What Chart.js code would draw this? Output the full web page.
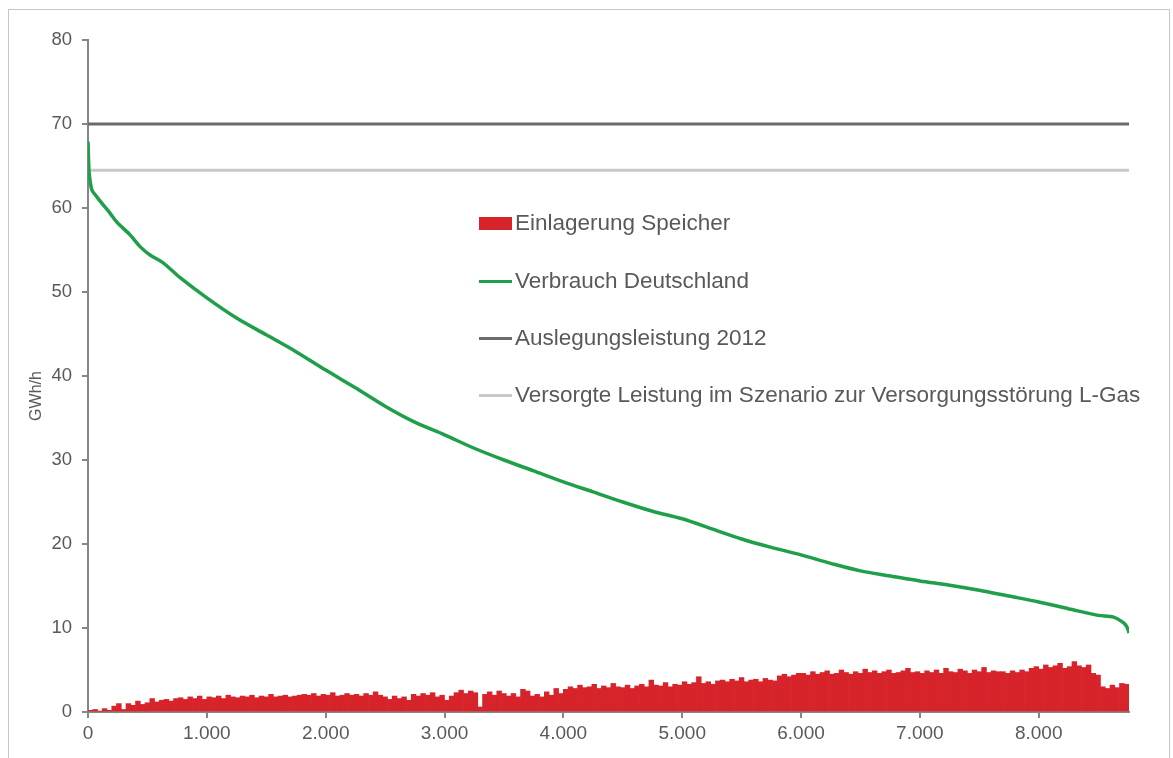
<!DOCTYPE html>
<html>
<head>
<meta charset="utf-8">
<script src="https://cdn.jsdelivr.net/npm/chart.js@4.4.1/dist/chart.umd.min.js"></script>
<style>
  body { margin: 0; background: #fff; font-family: "Liberation Sans", Arial, sans-serif; }
  #wrap { position: relative; width: 1173px; height: 758px; }
  #frame { position: absolute; left: 8px; top: 9px; width: 1162px; height: 760px; border: 1px solid #c6c6c6; box-sizing: border-box; }
  #ytitle { position: absolute; left: 36px; top: 396px; transform: translate(-50%, -50%) rotate(-90deg); font-size: 16px; color: #595959; white-space: nowrap; }
  .leg { position: absolute; left: 479px; display: flex; align-items: center; font-size: 22.5px; color: #595959; white-space: nowrap; transform: translateY(-50%); }
  .sw { width: 33px; margin-right: 3px; }
</style>
</head>
<body>
<div id="wrap">
  <div id="frame"></div>
  <canvas id="chart"></canvas>
  <div id="ytitle">GWh/h</div>
  <div class="leg" style="top:223px"><span class="sw" style="height:13px;background:#d7232a"></span>Einlagerung Speicher</div>
  <div class="leg" style="top:281px"><span class="sw" style="height:3px;background:#1f9f4a"></span>Verbrauch Deutschland</div>
  <div class="leg" style="top:338px"><span class="sw" style="height:3px;background:#6b6b6b"></span>Auslegungsleistung 2012</div>
  <div class="leg" style="top:395px"><span class="sw" style="height:3px;background:#c9c9c9"></span>Versorgte Leistung im Szenario zur Versorgungsstörung L-Gas</div>
</div>
<script>
// hours of the year (sorted duration curve)
var consumptionHours = [0, 8, 17, 34, 76, 126, 185, 244, 354, 438, 522, 630, 775, 1000, 1250, 1500, 1750, 2000, 2250, 2500, 2750, 3000, 3250, 3500, 3750, 4000, 4250, 4500, 4750, 5000, 5250, 5500, 5750, 6000, 6250, 6500, 6750, 7000, 7250, 7500, 7750, 8000, 8250, 8500, 8630, 8715, 8747, 8760];
var consumption = [67.9, 64.5, 63.3, 62.1, 61.3, 60.4, 59.4, 58.3, 56.8, 55.4, 54.4, 53.5, 51.7, 49.3, 46.9, 44.9, 42.9, 40.7, 38.6, 36.4, 34.5, 33.0, 31.4, 30.0, 28.7, 27.4, 26.2, 25.0, 23.9, 23.0, 21.8, 20.6, 19.6, 18.7, 17.7, 16.8, 16.2, 15.6, 15.1, 14.5, 13.8, 13.1, 12.3, 11.5, 11.3, 10.6, 10.0, 9.4];

// storage injection, one value per 40 hours
var storageStep = 40;
var storage = [
  0.2, 0.3, 0.1, 0.4, 0.2, 0.7, 1.0, 0.3,
  1.0, 0.8, 1.3, 0.9, 1.1,
  1.6, 1.2, 1.4, 1.5, 1.3, 1.6, 1.7, 1.5, 1.8, 1.6, 1.9, 1.5,
  1.8, 1.7, 1.9, 1.6, 2.0, 1.8, 1.7, 1.9, 1.8, 2.0, 1.7, 1.9, 1.8, 2.1, 1.8, 1.9, 2.0, 1.8, 1.9, 2.0,
  2.1, 2.0, 2.2, 1.9, 2.1, 2.0, 2.3, 1.9, 2.0, 2.2, 2.0, 2.1, 1.9, 2.2, 2.0, 2.4, 2.0,
  1.8, 1.5, 1.9, 1.6, 1.8, 1.4,
  2.1, 1.9, 2.2, 2.0, 2.3, 1.8, 2.0,
  1.4, 1.9,
  2.3, 2.6, 2.2, 2.5, 2.3,
  0.6,
  2.1, 2.4, 2.0, 2.5, 2.2,
  1.9, 2.2, 1.8,
  2.7, 2.5,
  1.9, 2.1, 1.8, 2.4, 2.0, 2.8, 2.2,
  2.7, 3.0, 2.8, 3.2, 2.9, 3.0, 3.3, 2.8, 3.1, 2.9, 3.4, 3.0, 2.9, 3.2, 2.8,
  3.1, 3.3, 3.0, 3.8, 3.2, 3.1, 3.5, 3.0, 3.3, 3.2,
  3.6, 3.3, 3.5, 4.2, 3.4, 3.6, 3.3, 3.7,
  3.8, 3.6, 3.9, 3.7, 4.1, 3.6, 3.8,
  3.9, 3.6, 4.0, 3.8, 3.7,
  4.3, 4.5, 4.2, 4.4, 4.6,
  4.6, 4.4, 4.8, 4.5, 4.7, 4.9, 4.5, 4.6, 5.0, 4.7, 4.5, 4.8, 4.6, 5.1, 4.7, 4.9, 4.6, 4.8, 5.0, 4.6, 4.7, 4.9, 5.2, 4.7, 4.8, 4.6,
  4.9, 4.7, 5.0, 4.6, 5.2, 4.8, 4.7, 5.1, 4.9, 4.6, 5.0, 4.8, 5.3, 4.7, 4.9, 4.8,
  4.8, 4.6, 4.9, 4.7, 5.0, 4.8,
  5.2, 5.4, 5.1, 5.6, 5.3, 5.5, 5.8, 5.2, 5.4, 6.0, 5.5, 5.3, 5.6,
  4.6, 4.4,
  3.0, 2.8, 3.2, 2.9, 3.4,
  3.3
];

var designCapacity = 70;      // Auslegungsleistung 2012
var suppliedScenario = 64.5;  // Versorgte Leistung L-Gas Szenario
var yearHours = 8760;

var storagePoints = storage.map(function (v, i) { return { x: i * storageStep + storageStep / 2, y: v }; });
var consumptionPoints = consumption.map(function (v, i) { return { x: consumptionHours[i], y: v }; });

function fmt(v) {
  return String(v).replace(/\B(?=(\d{3})+(?!\d))/g, '.');
}

var axisColor = '#868686';
var textColor = '#595959';

var ctx = document.getElementById('chart').getContext('2d');
var myChart = new Chart(ctx, {
  type: 'bar',
  data: {
    datasets: [{
      type: 'line',
      label: 'Auslegungsleistung 2012',
      data: [{ x: 0, y: designCapacity }, { x: yearHours, y: designCapacity }],
      borderColor: '#6b6b6b',
      borderWidth: 3,
      pointRadius: 0,
      order: 1
    }, {
      type: 'line',
      label: 'Versorgte Leistung im Szenario zur Versorgungsstörung L-Gas',
      data: [{ x: 0, y: suppliedScenario }, { x: yearHours, y: suppliedScenario }],
      borderColor: '#c9c9c9',
      borderWidth: 3,
      pointRadius: 0,
      order: 2
    }, {
      type: 'line',
      label: 'Verbrauch Deutschland',
      data: consumptionPoints,
      borderColor: '#1f9f4a',
      borderWidth: 3.5,
      pointRadius: 0,
      tension: 0.3,
      order: 0
    }, {
      type: 'bar',
      label: 'Einlagerung Speicher',
      data: storagePoints,
      backgroundColor: '#d7232a',
      borderWidth: 0,
      barPercentage: 1,
      categoryPercentage: 1,
      grouped: false,
      order: 3
    }]
  },
  options: {
    responsive: true,
    maintainAspectRatio: false,
    animation: false,
    layout: { padding: { left: 0, right: 44, top: 40, bottom: 0 } },
    plugins: { legend: { display: false }, tooltip: { enabled: false } },
    scales: {
      x: {
        type: 'linear',
        min: 0,
        max: yearHours,
        offset: false,
        afterBuildTicks: function (scale) {
          var t = [];
          for (var v = 0; v <= scale.max; v += 1000) t.push({ value: v });
          scale.ticks = t;
        },
        afterFit: function (scale) { scale.height = 46; },
        ticks: {
          color: textColor,
          font: { family: 'Liberation Sans', size: 19 },
          padding: 4,
          maxRotation: 0,
          autoSkip: false,
          callback: function (v) { return fmt(v); }
        },
        grid: { offset: false, drawOnChartArea: false, tickLength: 6, color: axisColor, lineWidth: 2 },
        border: { color: axisColor, width: 2 }
      },
      y: {
        min: 0,
        max: 80,
        afterFit: function (scale) { scale.width = 88; },
        ticks: {
          stepSize: 10,
          color: textColor,
          font: { family: 'Liberation Sans', size: 18.5 },
          padding: 10
        },
        grid: { drawOnChartArea: false, tickLength: 6, color: axisColor, lineWidth: 2 },
        border: { color: axisColor, width: 2 }
      }
    }
  }
});
</script>
</body>
</html>
